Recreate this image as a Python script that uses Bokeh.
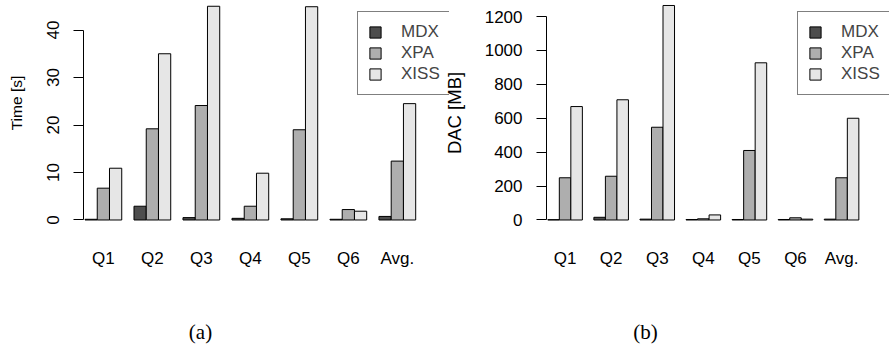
import math
from bokeh.plotting import figure
from bokeh.models import Range1d, FixedTicker, Legend, LegendItem, Label, ColumnDataSource
from bokeh.layouts import row, column
from bokeh.embed import file_html
from bokeh.resources import INLINE

# ---------------- data ----------------
queries = ["Q1", "Q2", "Q3", "Q4", "Q5", "Q6", "Avg."]
series = ["MDX", "XPA", "XISS"]
colors = ["#4D4D4D", "#AEAEAE", "#E6E6E6"]

time_mdx = [0.15, 2.9, 0.5, 0.35, 0.25, 0.15, 0.75]
time_xpa = [6.7, 19.2, 24.1, 2.9, 19.0, 2.2, 12.4]
time_xiss = [10.9, 35.0, 45.0, 9.85, 44.9, 1.85, 24.5]

dac_mdx = [2, 16, 5, 3, 3, 3, 5]
dac_xpa = [249, 258, 547, 7, 410, 13, 249]
dac_xiss = [669, 709, 1265, 30, 927, 5, 600]

time_ticks = [0, 10, 20, 30, 40]
dac_ticks = [0, 200, 400, 600, 800, 1000, 1200]

FONT = "Liberation Sans"
CHART_H = 300
CAP_H = 46


def make_panel(values, ticks, width, min_left, x_rng, y_rng,
               vertical_ticks, tick_standoff, legend_x, styles=None):
    kw = {}
    if styles:
        kw["styles"] = styles
    p = figure(width=width, height=CHART_H, output_backend="svg", toolbar_location=None,
               x_range=Range1d(*x_rng), y_range=Range1d(*y_rng),
               min_border_left=min_left, min_border_right=0, min_border_top=4,
               min_border_bottom=79, **kw)
    p.outline_line_color = None
    p.xgrid.visible = False
    p.ygrid.visible = False
    p.background_fill_color = "white"
    p.border_fill_alpha = 0

    renderers = []
    ngroups = len(queries)
    nser = len(series)
    for s, (name, vals, col) in enumerate(zip(series, values, colors)):
        src = ColumnDataSource(dict(
            x=[g * (nser + 1) + s + 0.5 for g in range(ngroups)],
            top=vals))
        r = p.vbar(x="x", top="top", bottom=0, width=1, source=src,
                   fill_color=col, line_color="black", line_width=1)
        renderers.append(r)

    # x axis: group labels only
    xa = p.xaxis[0]
    group_centers = [g * (nser + 1) + nser / 2 for g in range(ngroups)]
    xa.ticker = FixedTicker(ticks=group_centers)
    xa.major_label_overrides = {c: q for c, q in zip(group_centers, queries)}
    xa.axis_line_color = None
    xa.major_tick_line_color = None
    xa.minor_tick_line_color = None
    xa.major_tick_out = 0
    xa.major_label_standoff = 27
    xa.major_label_text_font = FONT
    xa.major_label_text_font_size = "17px"
    xa.major_label_text_color = "black"

    ya = p.yaxis[0]
    ya.ticker = FixedTicker(ticks=ticks)
    ya.bounds = (ticks[0], ticks[-1])
    ya.axis_line_color = "black"
    ya.major_tick_line_color = "black"
    ya.minor_tick_line_color = None
    ya.major_tick_in = 0
    ya.major_tick_out = 10
    ya.major_label_standoff = tick_standoff
    ya.major_label_text_font = FONT
    ya.major_label_text_font_size = "17px"
    ya.major_label_text_color = "black"
    if vertical_ticks:
        ya.major_label_orientation = "vertical"

    legend = Legend(items=[LegendItem(label=n, renderers=[r]) for n, r in zip(series, renderers)],
                    location=(legend_x, 126), margin=0, padding=10, spacing=1,
                    glyph_width=14, glyph_height=14, label_height=20, label_standoff=19,
                    label_text_font=FONT, label_text_font_size="17px",
                    border_line_color="black", border_line_width=1,
                    background_fill_color="white", background_fill_alpha=1.0)
    p.add_layout(legend)
    return p


def text_strip(text, width, height, cx, cy, font, size, angle=0.0):
    c = figure(width=width, height=height, output_backend="svg", toolbar_location=None,
               x_range=Range1d(0, 1), y_range=Range1d(0, 1),
               x_axis_type=None, y_axis_type=None,
               min_border_left=0, min_border_right=0, min_border_top=0, min_border_bottom=0)
    c.outline_line_color = None
    c.grid.visible = False
    c.border_fill_alpha = 0
    c.background_fill_alpha = 0
    c.add_layout(Label(x=cx, y=cy, x_units="screen", y_units="screen", angle=angle,
                       text=text, text_align="center", text_baseline="middle",
                       text_font=font, text_font_size=size, text_color="black"))
    return c


# y title of the left panel in a narrow strip; the row aligns its frame with the charts'
# frames (top 4 px, bottom 79 px), so y is measured up from the charts' baseline region
time_title = text_strip("Time [s]", 30, CHART_H, 15.8, 118.5, FONT, "15.5px", math.pi / 2)

# left panel: bar width 12.3 px (Q1 starts 1.5 px right of the axis); right: 11.52 px
left = make_panel([time_mdx, time_xpa, time_xiss], time_ticks,
                  419, 53, (-0.122, 29.76), (-0.316, 45.37),
                  True, 14, 274)
# the right panel's (transparent) left border slides under the left panel's edge
right = make_panel([dac_mdx, dac_xpa, dac_xiss], dac_ticks,
                   452, 109, (-0.113, 29.66), (-8.85, 1270.8),
                   False, 14, 251, styles={"margin-left": "-12px"})
ra = right.yaxis[0]
ra.axis_label = "DAC [MB]"
ra.axis_label_standoff = 17
ra.axis_label_text_font = FONT
ra.axis_label_text_font_size = "18.5px"
ra.axis_label_text_font_style = "normal"
ra.axis_label_text_color = "black"

cap_a = text_strip("(a)", 449, CAP_H, 200, 15, "Liberation Serif", "21px")
cap_b = text_strip("(b)", 440, CAP_H, 196, 15, "Liberation Serif", "21px")

layout = column(row(time_title, left, right), row(cap_a, cap_b))
open("out.html", "w").write(file_html(layout, INLINE))
